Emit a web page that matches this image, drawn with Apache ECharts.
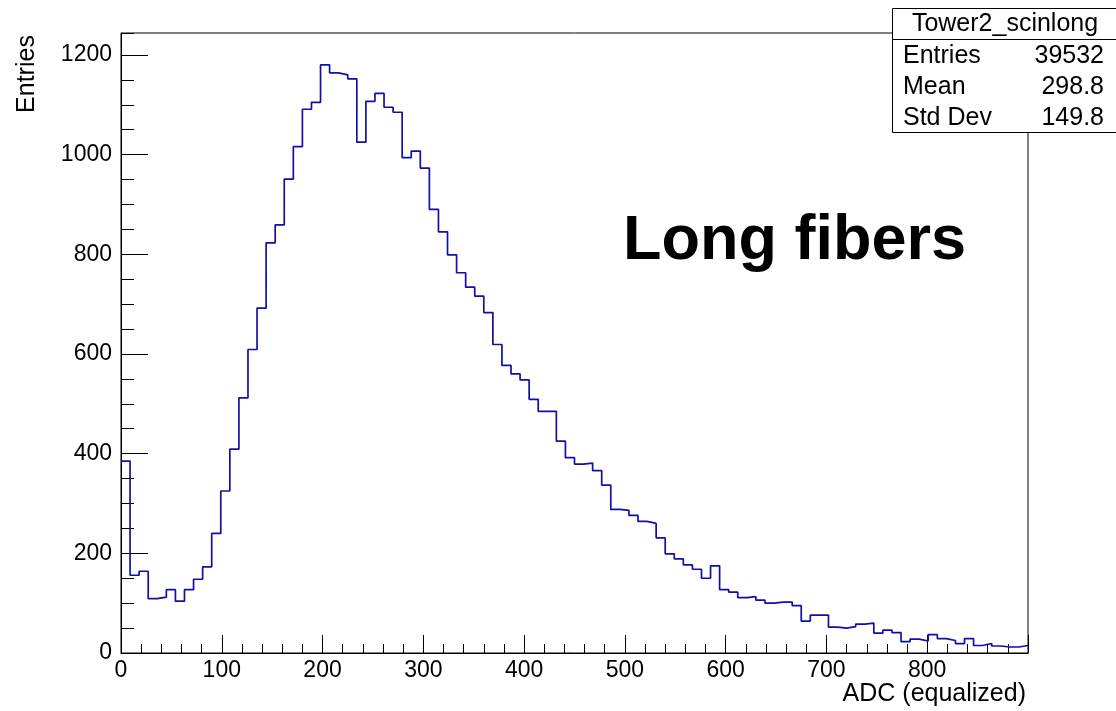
<!DOCTYPE html>
<html>
<head>
<meta charset="utf-8">
<script src="https://cdn.jsdelivr.net/npm/echarts@6/dist/echarts.min.js"></script>
<style>
html,body{margin:0;padding:0;background:#fff;}
#chart{width:1116px;height:711px;}
</style>
</head>
<body>
<div id="chart"></div>
<script>
// Histogram definition: 100 bins from 0 to 900
const xMin = 0;
const xMax = 900;
const binWidth = 9;
const counts = [
  385,156,164,109,112,127,104,127,148,173,
  240,325,409,512,609,692,823,859,951,1016,
  1091,1105,1180,1164,1160,1152,1025,1107,1123,1095,
  1085,994,1007,973,890,845,799,763,734,716,
  683,619,577,560,548,509,485,485,425,392,
  379,381,366,337,288,286,276,264,260,231,
  199,189,177,168,150,175,127,122,111,113,
  106,100,102,102,95,64,76,76,52,50,
  53,58,60,40,46,41,23,28,24,37,
  29,25,19,29,15,19,14,12,12,15
];
const statsTitle = "Tower2_scinlong";
const statsLabels = ["Entries", "Mean", "Std Dev"];
const statsValues = ["39532", "298.8", "149.8"];
const xTitle = "ADC (equalized)";
const yTitle = "Entries";
const annotation = "Long fibers";

const FONT = '"Liberation Sans", Arial, Helvetica, sans-serif';

// step outline points from bin low edges
const stepData = counts.map((c, i) => [xMin + i * binWidth, c]);
stepData.push([xMax, counts[counts.length - 1]]);

const chart = echarts.init(document.getElementById('chart'), null, {renderer: 'canvas'});

const statsGraphics = [
  {type: 'rect', shape: {x: 892.5, y: 8.5, width: 240, height: 124},
   style: {fill: '#fff', stroke: '#000', lineWidth: 1}, z: 100},
  {type: 'line', shape: {x1: 892.5, y1: 39.5, x2: 1116, y2: 39.5},
   style: {stroke: '#000', lineWidth: 1}, z: 101},
  {type: 'text', x: 1005, y: 24, z: 102,
   style: {text: statsTitle, font: '25px ' + FONT, fill: '#000', textAlign: 'center', textVerticalAlign: 'middle'}}
];
const rowY = [56, 87, 118];
statsLabels.forEach((lab, i) => {
  statsGraphics.push({type: 'text', x: 903, y: rowY[i], z: 102,
    style: {text: lab, font: '25px ' + FONT, fill: '#000', textAlign: 'left', textVerticalAlign: 'middle'}});
  statsGraphics.push({type: 'text', x: 1104, y: rowY[i], z: 102,
    style: {text: statsValues[i], font: '25px ' + FONT, fill: '#000', textAlign: 'right', textVerticalAlign: 'middle'}});
});

const plainNum = v => String(v);

const option = {
  animation: false,
  backgroundColor: '#fff',
  grid: {left: 121, right: 88, top: 33, bottom: 58, show: true, borderColor: '#000', borderWidth: 1, containLabel: false},
  xAxis: {
    type: 'value', min: xMin, max: xMax, interval: 100,
    axisLine: {show: true, onZero: false, lineStyle: {color: '#000', width: 1}},
    axisTick: {show: true, inside: true, length: 18, lineStyle: {color: '#000', width: 1}},
    minorTick: {show: true, splitNumber: 5, length: 9, lineStyle: {color: '#000', width: 1}},
    splitLine: {show: false},
    axisLabel: {show: true, margin: 6, color: '#000', fontSize: 23, fontFamily: FONT, showMaxLabel: false, formatter: plainNum}
  },
  yAxis: [
    {
      type: 'value', min: 0, max: 1244, interval: 200, position: 'left', offset: 0,
      axisLine: {show: true, onZero: false, lineStyle: {color: '#000', width: 1}},
      axisTick: {show: true, inside: true, length: 27, lineStyle: {color: '#000', width: 1}},
      minorTick: {show: false},
      splitLine: {show: false},
      axisLabel: {show: true, margin: 9, color: '#000', fontSize: 23, fontFamily: FONT, showMaxLabel: false, formatter: plainNum}
    },
    {
      type: 'value', min: 0, max: 1244, interval: 50, position: 'left', offset: 0,
      axisLine: {show: false},
      axisTick: {show: true, inside: true, length: 13, lineStyle: {color: '#000', width: 1}},
      splitLine: {show: false},
      axisLabel: {show: false}
    }
  ],
  series: [{
    type: 'line',
    step: 'end',
    xAxisIndex: 0,
    yAxisIndex: 0,
    data: stepData,
    showSymbol: false,
    symbol: 'none',
    lineStyle: {color: '#1010a8', width: 1.7},
    z: 5
  }],
  graphic: [
    {type: 'text', x: 623, y: 242, z: 50,
     style: {text: annotation, font: 'bold 63px ' + FONT, fill: '#000', textAlign: 'left', textVerticalAlign: 'middle'}},
    {type: 'text', x: 1026, y: 694, z: 50,
     style: {text: xTitle, font: '25px ' + FONT, fill: '#000', textAlign: 'right', textVerticalAlign: 'middle'}},
    {type: 'text', x: 27, y: 74, rotation: Math.PI / 2, z: 50,
     style: {text: yTitle, font: '25px ' + FONT, fill: '#000', textAlign: 'center', textVerticalAlign: 'middle'}}
  ].concat(statsGraphics)
};
chart.setOption(option);
</script>
</body>
</html>
